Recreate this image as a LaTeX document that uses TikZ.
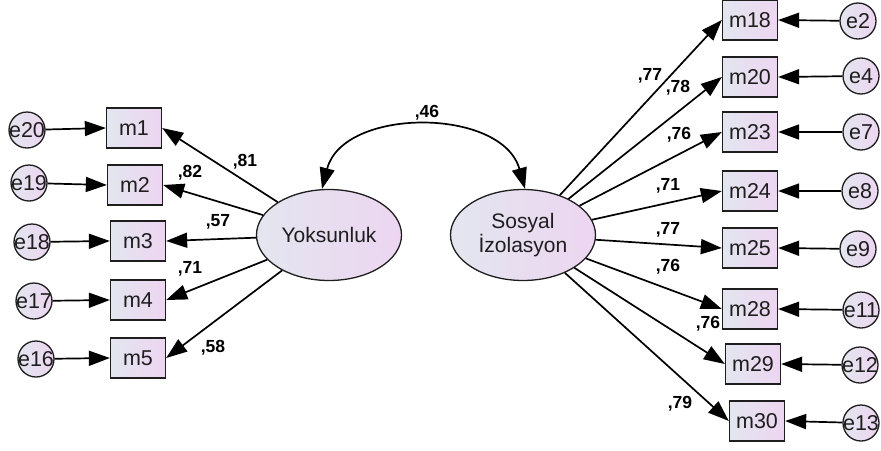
\documentclass[tikz,border=0pt]{standalone}
\usepackage{fontspec}
\setmainfont{Liberation Sans}
\usetikzlibrary{shapes.geometric,arrows.meta}
\definecolor{fillL}{HTML}{E3E6EF}
\definecolor{fillR}{HTML}{EDD5F1}
\definecolor{ink}{HTML}{1E1E1E}
\tikzset{
  obs/.style={draw=ink, line width=1.3pt, rectangle, minimum width=55pt, minimum height=40pt, inner sep=0pt,
    left color=fillL, right color=fillR, text=ink, font=\fontsize{21.5}{24}\selectfont},
  err/.style={draw=ink, line width=1.3pt, circle, minimum size=36pt, inner sep=0pt,
    left color=fillL, right color=fillR, text=ink, font=\fontsize{21.5}{24}\selectfont},
  lat/.style={draw=ink, line width=1.3pt, ellipse, minimum width=145pt, minimum height=91pt, inner sep=0pt,
    left color=fillL, right color=fillR, text=ink, align=center, font=\fontsize{21}{24}\selectfont},
  arr/.style={draw=black, line width=1.7pt, -{Triangle[length=21pt,width=15pt]}},
  dbl/.style={draw=black, line width=1.7pt, {Triangle[length=21pt,width=15pt]}-{Triangle[length=21pt,width=15pt]}},
  lbl/.style={text=black, inner sep=0pt, font=\fontsize{17.5}{19}\selectfont\bfseries}
}
\begin{document}
\begin{tikzpicture}[x=1pt,y=-1pt]
\useasboundingbox (0,0) rectangle (881,450);
% latent variables
\node[lat] (Y) at (329,235) {Yoksunluk};
\node[lat] (S) at (523,235) {Sosyal\\İzolasyon};
% left indicators
\node[obs] (m1) at (134,128) {m1};
\node[obs] (m2) at (135,185) {m2};
\node[obs] (m3) at (138,241) {m3};
\node[obs] (m4) at (138,300) {m4};
\node[obs] (m5) at (138,358) {m5};
\node[err] (e20) at (27,130) {\makebox[0pt]{e20}};
\node[err] (e19) at (29,183) {\makebox[0pt]{e19}};
\node[err] (e18) at (32,242) {\makebox[0pt]{e18}};
\node[err] (e17) at (34,301) {\makebox[0pt]{e17}};
\node[err] (e16) at (36,359) {\makebox[0pt]{e16}};
% right indicators
\node[obs] (m18) at (750,20) {m18};
\node[obs] (m20) at (750,77) {m20};
\node[obs] (m23) at (750,132) {m23};
\node[obs] (m24) at (750,191) {m24};
\node[obs] (m25) at (750,248) {m25};
\node[obs] (m28) at (750,309) {m28};
\node[obs] (m29) at (753,364) {m29};
\node[obs] (m30) at (757,421) {m30};
\node[err] (e2) at (858,21) {\makebox[0pt]{e2}};
\node[err] (e4) at (861,76) {\makebox[0pt]{e4}};
\node[err] (e7) at (861,132) {\makebox[0pt]{e7}};
\node[err] (e8) at (860,191) {\makebox[0pt]{e8}};
\node[err] (e9) at (858,249) {\makebox[0pt]{e9}};
\node[err] (e11) at (861,310) {\makebox[0pt]{e11}};
\node[err] (e12) at (860,365) {\makebox[0pt]{e12}};
\node[err] (e13) at (861,423) {\makebox[0pt]{e13}};
% error arrows
\draw[arr] (e20) -- (m1.west);
\draw[arr] (e19) -- (m2.west);
\draw[arr] (e18) -- (m3.west);
\draw[arr] (e17) -- (m4.west);
\draw[arr] (e16) -- (m5.west);
\draw[arr] (e2) -- (m18.east);
\draw[arr] (e4) -- (m20.east);
\draw[arr] (e7) -- (m23.east);
\draw[arr] (e8) -- (m24.east);
\draw[arr] (e9) -- (m25.east);
\draw[arr] (e11) -- (m28.east);
\draw[arr] (e12) -- (m29.east);
\draw[arr] (e13) -- (m30.east);
% loadings
\draw[arr] (Y) -- (m1.east);
\draw[arr] (Y) -- (m2.east);
\draw[arr] (Y) -- (m3.east);
\draw[arr] (Y) -- (m4.east);
\draw[arr] (Y) -- (m5.east);
\draw[arr] (S) -- (m18.west);
\draw[arr] (S) -- (m20.west);
\draw[arr] (S) -- (m23.west);
\draw[arr] (S) -- (m24.west);
\draw[arr] (S) -- (m25.west);
\draw[arr] (S) -- (m28.west);
\draw[arr] (S) -- (m29.west);
\draw[arr] (S) -- (m30.west);
% covariance
\coordinate (ytop) at ([xshift=-7pt]Y.north);
\coordinate (stop) at ([xshift=2pt]S.north);
\draw[dbl] (ytop) .. controls (343,107) and (502,107) .. (stop);
% labels
\node[lbl] (l46) at (427,113) {,46};
\node[lbl] (l81) at (245,162) {,81};
\node[lbl] (l82) at (190,173) {,82};
\node[lbl] (l57) at (218,222) {,57};
\node[lbl] (l71) at (190,269) {,71};
\node[lbl] (l58) at (213,348) {,58};
\node[lbl] (r77a) at (650,76) {,77};
\node[lbl] (r78) at (678,88) {,78};
\node[lbl] (r76a) at (679,135) {,76};
\node[lbl] (r71) at (668,186) {,71};
\node[lbl] (r77b) at (668,230) {,77};
\node[lbl] (r76b) at (668,267) {,76};
\node[lbl] (r76c) at (708,324) {,76};
\node[lbl] (r79) at (680,404) {,79};
\end{tikzpicture}
\end{document}
